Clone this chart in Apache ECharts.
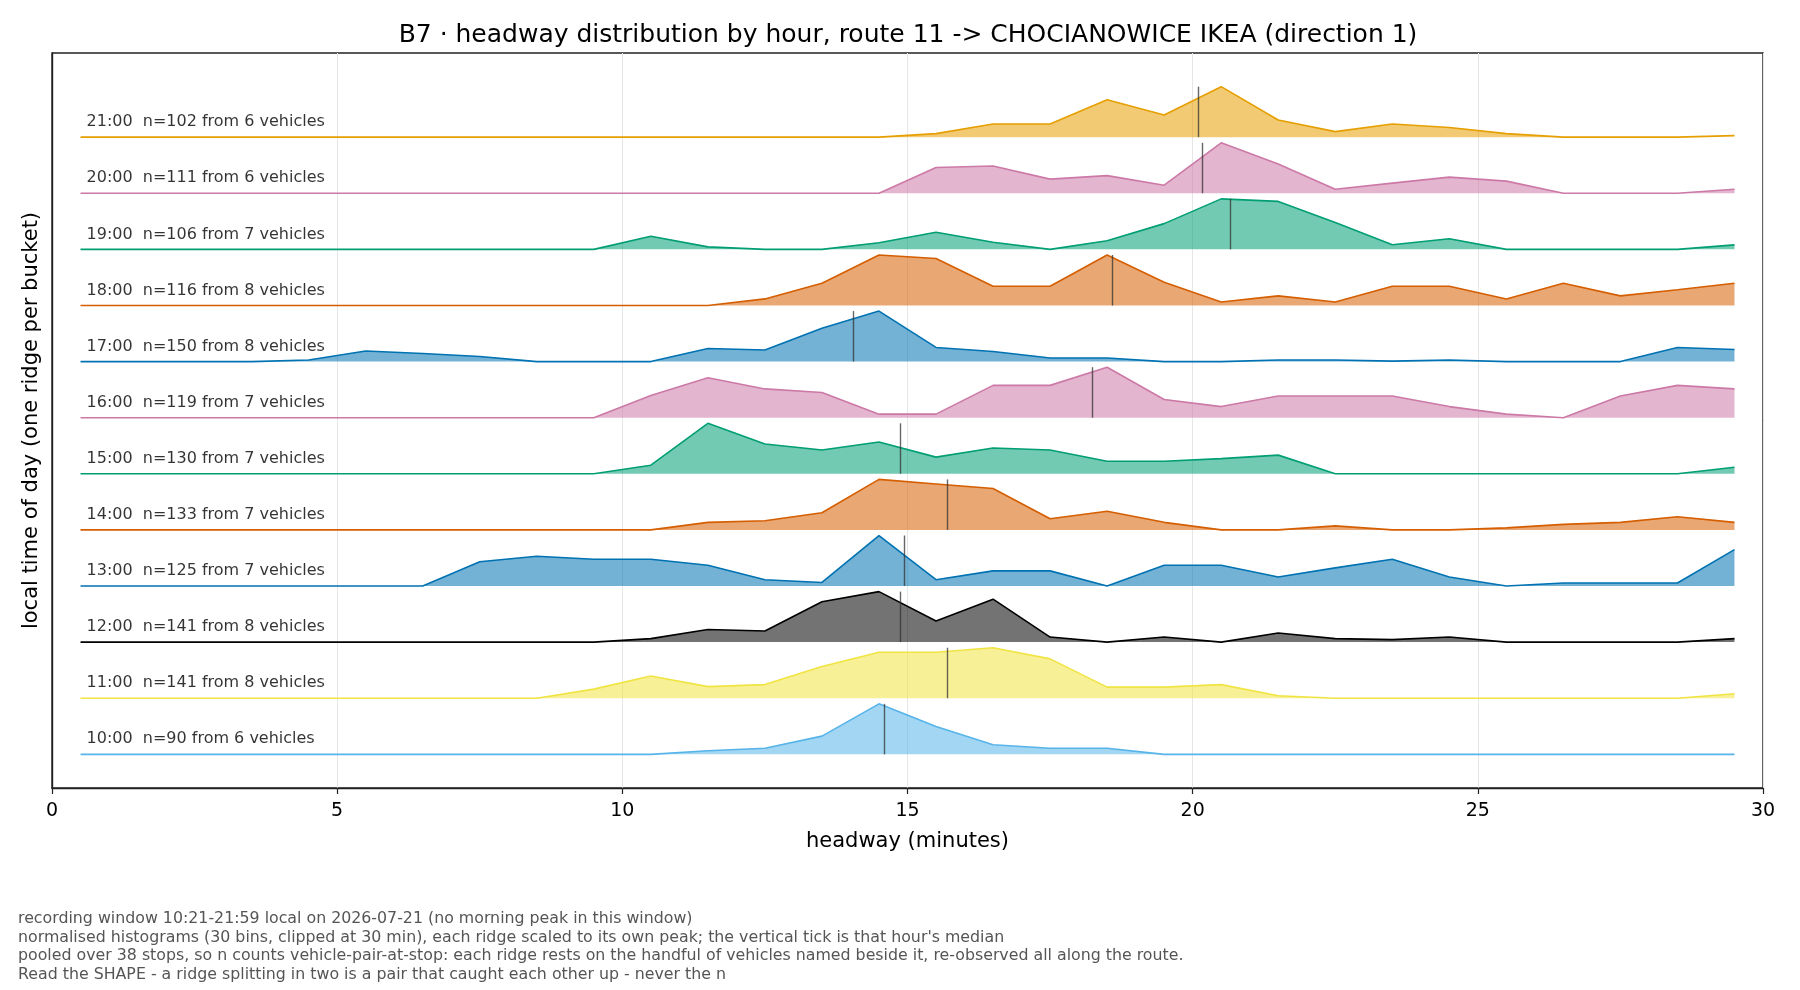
<!DOCTYPE html>
<html>
<head>
<meta charset="utf-8">
<title>B7 headway distribution by hour</title>
<script src="https://cdn.jsdelivr.net/npm/echarts@6/dist/echarts.min.js"></script>
<style>
    html, body { margin: 0; padding: 0; background: #fff; }
    #chart1 { width: 1800px; height: 990px; }
</style>
</head>
<body>
<div id="chart1"></div>
<script>
// bin centres (minutes), 30 bins clipped at 30
const bins = [0.5, 1.5, 2.5, 3.5, 4.5, 5.5, 6.5, 7.5, 8.5, 9.5,
    10.5, 11.5, 12.5, 13.5, 14.5, 15.5, 16.5, 17.5, 18.5, 19.5,
    20.5, 21.5, 22.5, 23.5, 24.5, 25.5, 26.5, 27.5, 28.5, 29.5];

const hours = ['10:00', '11:00', '12:00', '13:00', '14:00', '15:00',
    '16:00', '17:00', '18:00', '19:00', '20:00', '21:00'];
const nCounts = [90, 141, 141, 125, 133, 130, 119, 150, 116, 106, 111, 102];
const vehicles = [6, 8, 8, 7, 7, 7, 7, 8, 8, 7, 6, 6];
const medians = [14.6, 15.69, 14.87, 14.95, 15.69, 14.87, 18.24, 14.05, 18.59, 20.66, 20.16, 20.1];

// each ridge scaled to its own peak (peak = 1)
const h10 = [0, 0, 0, 0, 0, 0, 0, 0, 0, 0, 0, 0.07, 0.12, 0.36, 1, 0.55, 0.19, 0.12, 0.12, 0, 0, 0, 0, 0, 0, 0, 0, 0, 0, 0];
const h11 = [0, 0, 0, 0, 0, 0, 0, 0, 0, 0.18, 0.44, 0.23, 0.27, 0.63, 0.91, 0.91, 1, 0.78, 0.22, 0.22, 0.27, 0.05, 0, 0, 0, 0, 0, 0, 0, 0.09];
const h12 = [0, 0, 0, 0, 0, 0, 0, 0, 0, 0, 0.07, 0.25, 0.22, 0.8, 1, 0.42, 0.85, 0.1, 0, 0.1, 0, 0.18, 0.07, 0.05, 0.1, 0, 0, 0, 0, 0.07];
const h13 = [0, 0, 0, 0, 0, 0, 0, 0.48, 0.59, 0.53, 0.53, 0.41, 0.125, 0.07, 1, 0.125, 0.3, 0.3, 0, 0.41, 0.41, 0.18, 0.36, 0.53, 0.18, 0, 0.06, 0.06, 0.06, 0.72];
const h14 = [0, 0, 0, 0, 0, 0, 0, 0, 0, 0, 0, 0.15, 0.18, 0.34, 1, 0.91, 0.82, 0.22, 0.37, 0.15, 0, 0, 0.08, 0, 0, 0.04, 0.11, 0.15, 0.26, 0.15];
const h15 = [0, 0, 0, 0, 0, 0, 0, 0, 0, 0, 0.17, 1, 0.59, 0.47, 0.63, 0.33, 0.51, 0.47, 0.25, 0.25, 0.3, 0.37, 0, 0, 0, 0, 0, 0, 0, 0.13];
const h16 = [0, 0, 0, 0, 0, 0, 0, 0, 0, 0, 0.44, 0.79, 0.57, 0.5, 0.07, 0.07, 0.64, 0.64, 1, 0.36, 0.22, 0.43, 0.43, 0.43, 0.22, 0.07, 0, 0.43, 0.64, 0.57];
const h17 = [0, 0, 0, 0, 0.03, 0.21, 0.16, 0.1, 0, 0, 0, 0.26, 0.23, 0.66, 1, 0.28, 0.2, 0.07, 0.07, 0, 0, 0.03, 0.03, 0.01, 0.03, 0, 0, 0, 0.28, 0.24];
const h18 = [0, 0, 0, 0, 0, 0, 0, 0, 0, 0, 0, 0, 0.13, 0.44, 1, 0.93, 0.38, 0.38, 1, 0.46, 0.07, 0.19, 0.07, 0.38, 0.38, 0.13, 0.44, 0.19, 0.31, 0.44];
const h19 = [0, 0, 0, 0, 0, 0, 0, 0, 0, 0, 0.26, 0.05, 0, 0, 0.13, 0.34, 0.14, 0, 0.17, 0.51, 1, 0.95, 0.53, 0.09, 0.21, 0, 0, 0, 0, 0.09];
const h20 = [0, 0, 0, 0, 0, 0, 0, 0, 0, 0, 0, 0, 0, 0, 0, 0.51, 0.54, 0.28, 0.35, 0.16, 1, 0.58, 0.08, 0.2, 0.32, 0.24, 0, 0, 0, 0.08];
const h21 = [0, 0, 0, 0, 0, 0, 0, 0, 0, 0, 0, 0, 0, 0, 0, 0.07, 0.26, 0.26, 0.74, 0.44, 1, 0.34, 0.11, 0.26, 0.19, 0.07, 0, 0, 0, 0.03];
const ridges = [h10, h11, h12, h13, h14, h15, h16, h17, h18, h19, h20, h21];

const colors = ['#56B4E9', '#F0E442', '#000000', '#0072B2', '#D55E00', '#009E73',
    '#CC79A7', '#0072B2', '#D55E00', '#009E73', '#CC79A7', '#E69F00'];

const notes = [
    'recording window 10:21-21:59 local on 2026-07-21 (no morning peak in this window)',
    'normalised histograms (30 bins, clipped at 30 min), each ridge scaled to its own peak; the vertical tick is that hour\'s median',
    'pooled over 38 stops, so n counts vehicle-pair-at-stop: each ridge rests on the handful of vehicles named beside it, re-observed all along the route.',
    'Read the SHAPE - a ridge splitting in two is a pair that caught each other up - never the n'
];

const ridgeHeight = 0.9;
const font = 'DejaVu Sans';

const chart = echarts.init(document.getElementById('chart1'));

const series = ridges.map((vals, i) => ({
    name: hours[i],
    type: 'line',
    symbol: 'none',
    smooth: false,
    data: bins.map((b, k) => [b, i + ridgeHeight * vals[k]]),
    lineStyle: { color: colors[i], width: 1.6 },
    itemStyle: { color: colors[i] },
    areaStyle: { color: colors[i], opacity: 0.55, origin: i },
    markLine: {
        silent: true,
        symbol: ['none', 'none'],
        label: { show: false },
        lineStyle: { color: '#333', opacity: 0.75, width: 1.4, type: 'solid' },
        data: [[{ coord: [medians[i], i] }, { coord: [medians[i], i + ridgeHeight] }]]
    }
}));

series.push({
    type: 'scatter',
    symbolSize: 0,
    silent: true,
    data: hours.map((h, i) => ({
        value: [0.5, i],
        name: h + '  n=' + nCounts[i] + ' from ' + vehicles[i] + ' vehicles'
    })),
    label: {
        show: true,
        position: 'right',
        distance: 0,
        offset: [6, -15],
        formatter: p => p.name,
        fontFamily: font,
        fontSize: 16,
        color: '#000'
    },
    z: 10
});

const option = {
    animation: false,
    backgroundColor: '#fff',
    textStyle: { fontFamily: font },
    title: {
        text: 'B7 · headway distribution by hour, route 11 -> CHOCIANOWICE IKEA (direction 1)',
        left: 903,
        top: 18,
        textAlign: 'center',
        textStyle: { fontSize: 25, fontWeight: 'normal', color: '#000', fontFamily: font }
    },
    grid: {
        left: 52, right: 37, top: 53, bottom: 202,
        show: true, borderColor: '#222', borderWidth: 1.4, backgroundColor: 'transparent'
    },
    xAxis: {
        type: 'value',
        min: 0, max: 30, interval: 5,
        name: 'headway (minutes)',
        nameLocation: 'middle',
        nameGap: 43,
        nameTextStyle: { fontSize: 21, color: '#000', fontFamily: font },
        axisLine: { show: true, onZero: false, lineStyle: { color: '#222', width: 1.4 } },
        axisTick: { show: true, length: 6, lineStyle: { color: '#222', width: 1.2 } },
        axisLabel: { fontSize: 19, color: '#000', margin: 14, fontFamily: font, showMinLabel: true, showMaxLabel: true },
        splitLine: { show: true, lineStyle: { color: '#e6e6e6', width: 1 } }
    },
    yAxis: {
        type: 'value',
        min: -0.6, max: 12.5,
        name: 'local time of day (one ridge per bucket)',
        nameLocation: 'middle',
        nameRotate: 90,
        nameGap: 10,
        nameTextStyle: { fontSize: 21, color: '#000', fontFamily: font },
        axisLine: { show: true, onZero: false, lineStyle: { color: '#222', width: 1.4 } },
        axisTick: { show: false },
        axisLabel: { show: false },
        splitLine: { show: false }
    },
    graphic: [{
        type: 'text',
        left: 18,
        top: 910,
        style: {
            text: notes.join('\n'),
            font: '15.8px "DejaVu Sans"',
            fill: '#555',
            lineHeight: 18.5
        }
    }],
    series: series
};

chart.setOption(option);
window.addEventListener('resize', function () { chart.resize(); });
</script>
</body>
</html>
